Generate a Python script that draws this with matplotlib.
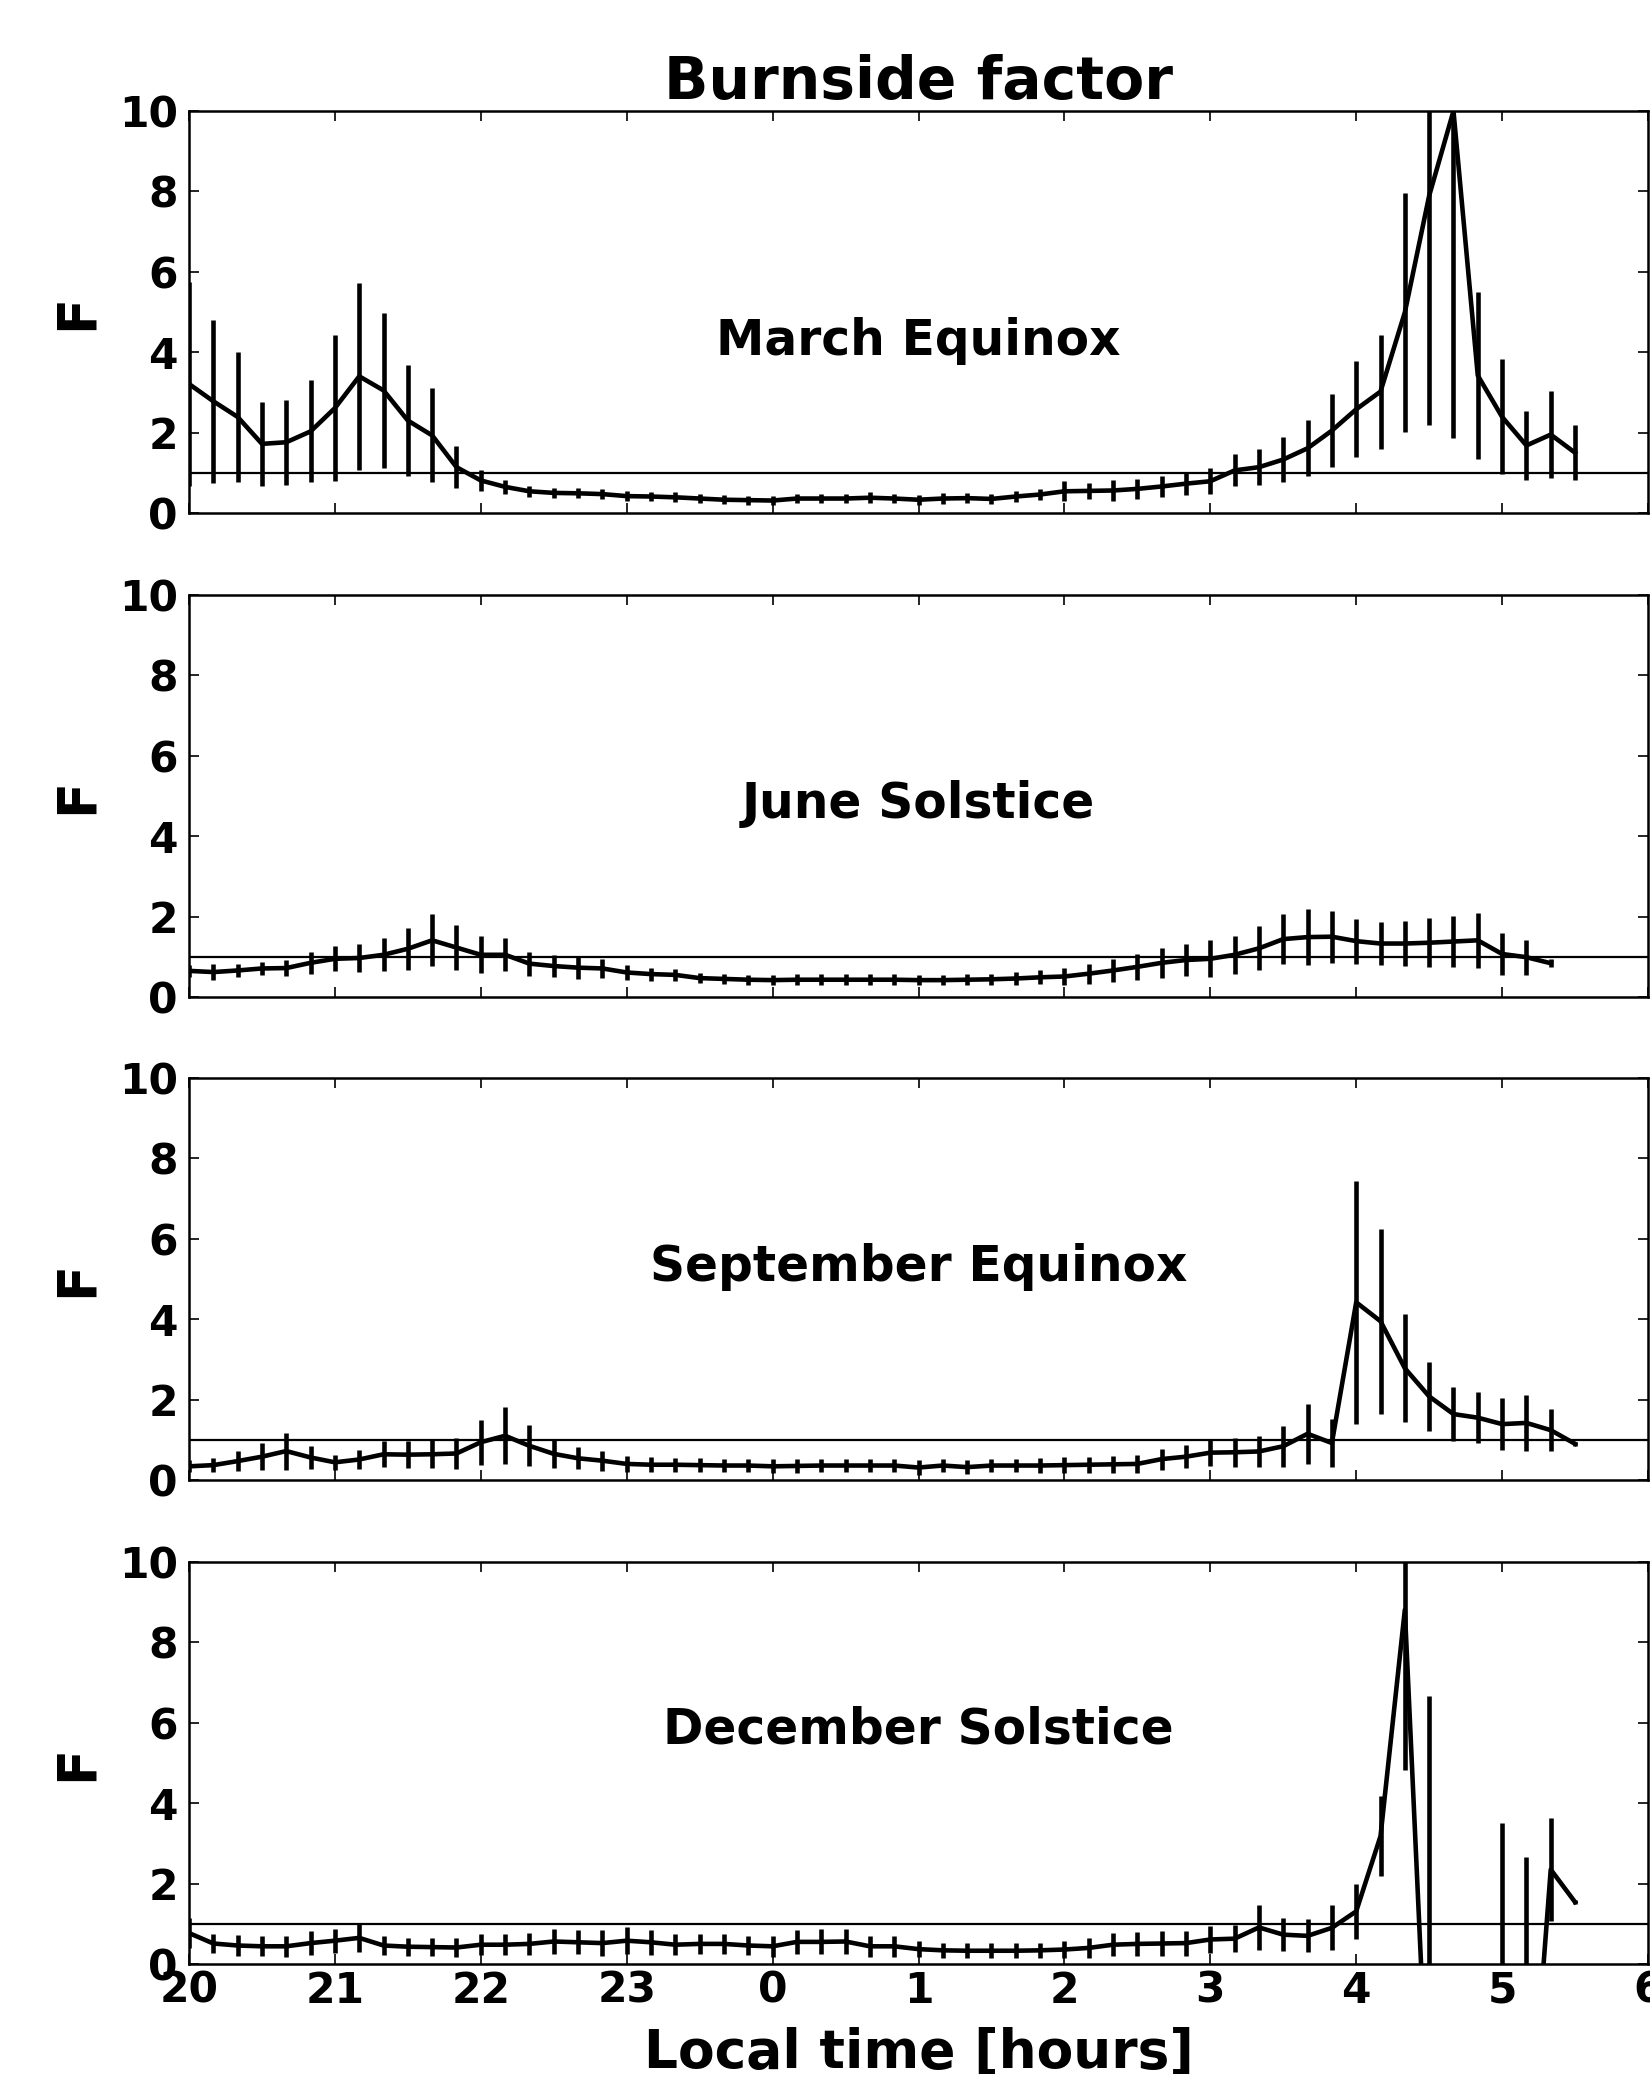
import numpy as np
import matplotlib
matplotlib.use("Agg")
import matplotlib.pyplot as plt

# ---------------- data ----------------
start_hour = 20.0
step_hours = 1.0 / 6.0

march = [3.21, 2.78, 2.39, 1.72, 1.76, 2.03, 2.61, 3.40, 3.05, 2.30,
         1.93, 1.14, 0.81, 0.65, 0.54, 0.50, 0.49, 0.47, 0.42, 0.41,
         0.39, 0.36, 0.33, 0.32, 0.31, 0.36, 0.36, 0.36, 0.38, 0.36,
         0.33, 0.36, 0.37, 0.35, 0.41, 0.46, 0.54, 0.55, 0.56, 0.60,
         0.66, 0.73, 0.79, 1.06, 1.14, 1.33, 1.61, 2.05, 2.58, 3.02,
         4.99, 7.89, 10.0, 3.42, 2.39, 1.68, 1.95, 1.50]
march_err = [2.53, 2.03, 1.61, 1.05, 1.06, 1.27, 1.81, 2.33, 1.93, 1.38,
             1.17, 0.53, 0.27, 0.18, 0.14, 0.12, 0.12, 0.12, 0.12, 0.12,
             0.12, 0.12, 0.11, 0.11, 0.11, 0.12, 0.12, 0.12, 0.13, 0.12,
             0.12, 0.13, 0.13, 0.13, 0.13, 0.14, 0.25, 0.20, 0.25, 0.25,
             0.25, 0.27, 0.32, 0.40, 0.45, 0.55, 0.70, 0.90, 1.19, 1.42,
             2.98, 5.70, 8.14, 2.07, 1.43, 0.85, 1.08, 0.68]

june = [0.65, 0.62, 0.66, 0.71, 0.72, 0.85, 0.95, 0.97, 1.05, 1.20,
        1.41, 1.23, 1.05, 1.05, 0.83, 0.77, 0.73, 0.71, 0.61, 0.57,
        0.55, 0.47, 0.45, 0.43, 0.42, 0.43, 0.43, 0.43, 0.43, 0.43,
        0.42, 0.42, 0.43, 0.44, 0.46, 0.49, 0.51, 0.58, 0.66, 0.75,
        0.85, 0.92, 0.95, 1.05, 1.21, 1.44, 1.49, 1.50, 1.39, 1.33,
        1.33, 1.35, 1.38, 1.41, 1.07, 0.99, 0.84]
june_err = [0.15, 0.19, 0.17, 0.17, 0.20, 0.28, 0.31, 0.34, 0.41, 0.52,
            0.65, 0.55, 0.46, 0.41, 0.30, 0.28, 0.27, 0.24, 0.19, 0.16,
            0.15, 0.13, 0.12, 0.12, 0.13, 0.13, 0.13, 0.13, 0.13, 0.13,
            0.13, 0.13, 0.13, 0.14, 0.15, 0.17, 0.22, 0.25, 0.29, 0.32,
            0.37, 0.41, 0.46, 0.47, 0.55, 0.63, 0.70, 0.65, 0.56, 0.53,
            0.56, 0.61, 0.64, 0.68, 0.53, 0.44, 0.10]

september = [0.34, 0.37, 0.47, 0.58, 0.72, 0.56, 0.44, 0.51, 0.64, 0.63,
             0.64, 0.66, 0.94, 1.10, 0.85, 0.65, 0.54, 0.48, 0.40, 0.38,
             0.38, 0.37, 0.36, 0.36, 0.34, 0.35, 0.36, 0.36, 0.36, 0.36,
             0.31, 0.36, 0.32, 0.36, 0.36, 0.36, 0.37, 0.38, 0.39, 0.40,
             0.52, 0.58, 0.68, 0.69, 0.71, 0.84, 1.15, 0.92, 4.42, 3.95,
             2.78, 2.08, 1.64, 1.55, 1.39, 1.42, 1.24, 0.90]
september_err = [0.15, 0.18, 0.24, 0.33, 0.46, 0.29, 0.18, 0.24, 0.32, 0.33,
                 0.35, 0.39, 0.56, 0.71, 0.51, 0.36, 0.27, 0.25, 0.20, 0.18,
                 0.17, 0.17, 0.17, 0.17, 0.17, 0.17, 0.17, 0.17, 0.17, 0.17,
                 0.18, 0.17, 0.17, 0.17, 0.17, 0.18, 0.20, 0.20, 0.21, 0.23,
                 0.26, 0.29, 0.34, 0.36, 0.39, 0.51, 0.74, 0.59, 3.03, 2.30,
                 1.34, 0.85, 0.68, 0.63, 0.64, 0.70, 0.53, 0.05]

december = [0.77, 0.51, 0.46, 0.44, 0.44, 0.52, 0.58, 0.65, 0.46, 0.43,
            0.42, 0.41, 0.48, 0.48, 0.50, 0.56, 0.54, 0.52, 0.58, 0.54,
            0.48, 0.50, 0.50, 0.46, 0.44, 0.55, 0.55, 0.56, 0.44, 0.44,
            0.37, 0.34, 0.33, 0.33, 0.33, 0.34, 0.36, 0.40, 0.48, 0.50,
            0.51, 0.52, 0.61, 0.63, 0.91, 0.73, 0.70, 0.90, 1.31, 3.18,
            8.81, -4.4, -5.0, -6.0, -5.5, -5.64, 2.35, 1.54]
december_err = [0.38, 0.24, 0.25, 0.25, 0.26, 0.29, 0.30, 0.34, 0.23, 0.22,
                0.23, 0.24, 0.26, 0.26, 0.27, 0.32, 0.30, 0.32, 0.34, 0.31,
                0.26, 0.25, 0.25, 0.24, 0.26, 0.30, 0.31, 0.30, 0.26, 0.26,
                0.19, 0.18, 0.18, 0.18, 0.18, 0.18, 0.20, 0.24, 0.28, 0.30,
                0.31, 0.31, 0.33, 0.34, 0.55, 0.41, 0.41, 0.56, 0.69, 0.99,
                3.98, 11.06, 3.0, 3.0, 9.0, 8.29, 1.29, 0.05]

season_names = ["March Equinox", "June Solstice", "September Equinox", "December Solstice"]
season_values = [march, june, september, december]
season_errors = [march_err, june_err, september_err, december_err]

xtick_positions = [20, 21, 22, 23, 24, 25, 26, 27, 28, 29, 30]
xtick_labels = ["20", "21", "22", "23", "0", "1", "2", "3", "4", "5", "6"]
ytick_values = [0, 2, 4, 6, 8, 10]
reference_level = 1.0

# ---------------- figure ----------------
W, H = 1650, 2074
fig = plt.figure(figsize=(W / 100, H / 100), dpi=100)

ax_left = 189 / W
ax_width = (1648 - 189) / W
ax_height = 402 / H
ax_tops = [111, 595, 1078, 1562]
text_y = [341, 804, 1267, 1730]

lw = 3.3
axes = []
for i, (name, vals, errs) in enumerate(zip(season_names, season_values, season_errors)):
    bottom = 1 - (ax_tops[i] + 402) / H
    ax = fig.add_axes([ax_left, bottom, ax_width, ax_height])
    axes.append(ax)
    x = start_hour + step_hours * np.arange(len(vals))
    ax.errorbar(x, vals, yerr=errs, color="k", lw=lw, elinewidth=lw, capsize=0)
    ax.axhline(reference_level, color="k", lw=1.6)
    ax.set_xlim(20, 30)
    ax.set_ylim(0, 10)
    ax.set_yticks(ytick_values)
    ax.set_yticklabels([str(v) for v in ytick_values], fontsize=30.5, fontweight="bold")
    ax.set_xticks(xtick_positions)
    if i == 3:
        ax.set_xticklabels(xtick_labels, fontsize=30.5, fontweight="bold")
        ax.set_xlabel("Local time [hours]", fontsize=38.5, fontweight="bold", va="baseline")
        ax.xaxis.set_label_coords(0.5, (1965 - 2069) / 402)
    else:
        ax.set_xticklabels([])
    ax.tick_params(direction="in", top=True, right=True, length=7, width=1.2)
    ax.tick_params(axis="y", pad=8)
    ax.tick_params(axis="x", pad=4)
    for sp in ax.spines.values():
        sp.set_linewidth(1.8)
    ax.set_ylabel("F", fontsize=38, fontweight="bold", va="center")
    ax.yaxis.set_label_coords((77 - 189) / 1459, 0.5)
    fig.text((189 + 1648) / 2 / W, 1 - text_y[i] / H, name, ha="center", va="center",
             fontsize=35, fontweight="bold")

fig.text((189 + 1648) / 2 / W, 1 - 82 / H, "Burnside factor", ha="center", va="center",
         fontsize=42, fontweight="bold")

fig.savefig("out.png", dpi=100)
